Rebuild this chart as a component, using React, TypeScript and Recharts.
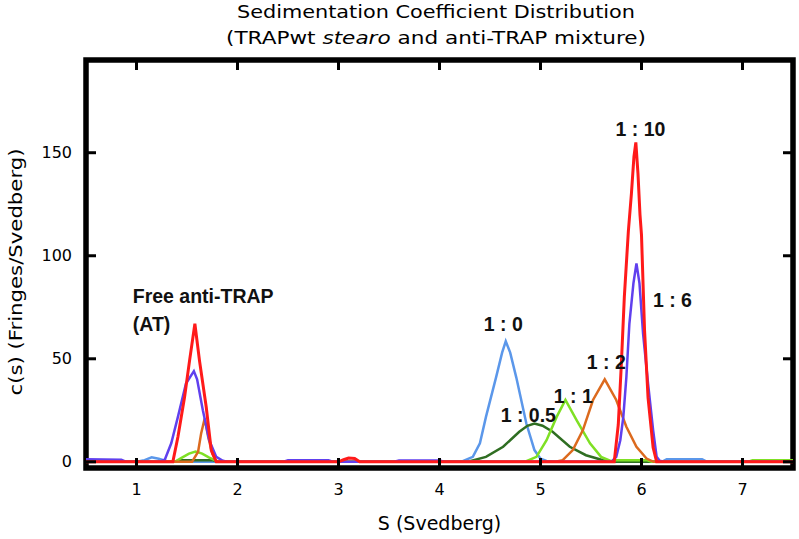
import React from "react";
import { LineChart, Line, XAxis, YAxis, ReferenceDot, ReferenceArea, Label } from "recharts";

// S (Svedberg) / c(s) pairs
const ratio1to0: [number, number][] = [
  [0.5, 0], [1.0, 0], [1.08, 0.8], [1.15, 2.2], [1.22, 1.5], [1.3, 0.3], [1.35, 0],
  [4.15, 0], [4.23, 0.3], [4.33, 2.4], [4.4, 9], [4.46, 21.8], [4.56, 41], [4.62, 53],
  [4.656, 58.5], [4.7, 53], [4.76, 41], [4.86, 18.6], [4.94, 5.7], [5.0, 1.5], [5.06, 0.4],
  [5.15, 0], [6.2, 0], [6.25, 1.2], [6.6, 1.2], [6.65, 0], [7.5, 0],
];
const ratio1to05: [number, number][] = [
  [0.5, 0], [1.38, 0], [1.42, 0.8], [1.75, 0.8], [1.8, 0], [4.2, 0], [4.3, 0.3],
  [4.46, 2.4], [4.63, 7.3], [4.79, 14.6], [4.87, 17.5], [4.94, 18.6], [5.02, 17.5],
  [5.12, 14.6], [5.29, 7.3], [5.45, 3.2], [5.62, 0.8], [5.72, 0], [7.5, 0],
];
const ratio1to1: [number, number][] = [
  [0.5, 0], [1.38, 0], [1.45, 2], [1.52, 4], [1.585, 5], [1.65, 4], [1.72, 2], [1.8, 0.3],
  [1.85, 0], [4.8, 0], [4.86, 0.3], [4.96, 2.4], [5.06, 10.5], [5.16, 21.8], [5.247, 30],
  [5.36, 20], [5.49, 9], [5.6, 2.4], [5.7, 0.3], [5.75, 0.8], [6.05, 0.8], [6.1, 0],
  [7.05, 0], [7.1, 0.8], [7.5, 0.8],
];
const ratio1to2: [number, number][] = [
  [0.5, 0], [1.55, 0], [1.61, 4.9], [1.64, 13.8], [1.675, 21], [1.71, 12], [1.75, 4],
  [1.79, 0], [5.15, 0], [5.22, 0.8], [5.32, 5.7], [5.42, 15.4], [5.52, 30], [5.636, 40],
  [5.75, 30], [5.85, 17], [5.95, 7.3], [6.05, 1.6], [6.12, 0], [7.5, 0],
];
const ratio1to6: [number, number][] = [
  [0.5, 1.2], [0.85, 1.0], [0.9, 0], [1.22, 0], [1.28, 1], [1.344, 9], [1.41, 21.8],
  [1.49, 38], [1.568, 44], [1.6, 40], [1.657, 25], [1.72, 10.5], [1.79, 2.4], [1.855, 0.5],
  [1.9, 0], [2.45, 0], [2.5, 0.8], [2.9, 0.8], [2.95, 0], [3.55, 0], [3.6, 0.6], [4.0, 0.6],
  [4.05, 0], [5.7, 0], [5.75, 2.4], [5.79, 10.5], [5.82, 21.8], [5.85, 41], [5.88, 67],
  [5.92, 86.6], [5.95, 96.3], [5.98, 86.6], [6.016, 62], [6.065, 38], [6.115, 15.4],
  [6.15, 2.4], [6.18, 0.5], [6.22, 0], [7.5, 0],
];
const ratio1to10: [number, number][] = [
  [0.5, 0], [1.36, 0], [1.41, 12], [1.476, 31.5], [1.525, 49], [1.578, 67], [1.624, 49],
  [1.69, 26.7], [1.74, 5.7], [1.79, 0], [3.0, 0], [3.05, 1], [3.1, 1.8], [3.16, 1.6],
  [3.21, 0], [5.73, 0], [5.77, 18], [5.8, 47], [5.83, 80], [5.87, 112], [5.9, 130],
  [5.925, 148], [5.944, 155], [5.965, 140], [5.985, 120], [6.0, 110], [6.03, 64],
  [6.065, 31], [6.115, 7], [6.15, 0], [7.5, 0],
];

const sTicks = [1, 2, 3, 4, 5, 6, 7];
const cTicks = [0, 50, 100, 150];
const sDomain: [number, number] = [0.5, 7.5];
const cDomain: [number, number] = [-3, 195];

const series = [
  { name: "1 : 0", color: "#5b97ea", width: 2.5, points: ratio1to0 },
  { name: "1 : 0.5", color: "#2f6e22", width: 2.5, points: ratio1to05 },
  { name: "1 : 1", color: "#7fe024", width: 2.5, points: ratio1to1 },
  { name: "1 : 2", color: "#dc6a1e", width: 2.5, points: ratio1to2 },
  { name: "1 : 6", color: "#6040ee", width: 2.5, points: ratio1to6 },
  { name: "1 : 10", color: "#ff1a1a", width: 3, points: ratio1to10 },
];

// label text, anchored at (s, c) on the text baseline
const notes = [
  { s: 5.99, c: 158, text: "1 : 10", anchor: "middle" },
  { s: 6.306, c: 75, text: "1 : 6", anchor: "middle" },
  { s: 4.632, c: 63.5, text: "1 : 0", anchor: "middle" },
  { s: 5.652, c: 45, text: "1 : 2", anchor: "middle" },
  { s: 5.325, c: 28.5, text: "1 : 1", anchor: "middle" },
  { s: 4.879, c: 19.3, text: "1 : 0.5", anchor: "middle" },
  { s: 0.963, c: 77, text: "Free anti-TRAP", anchor: "start" },
  { s: 0.963, c: 63.5, text: "(AT)", anchor: "start" },
];

const W = 799;
const H = 539;
const M = { top: 60, right: 6, bottom: 0, left: 0 };
const Y_AXIS_W = 86;
const X_AXIS_H = 71;
const plotTop = M.top;
const plotRight = W - M.right;
const TICK = 10; // inward tick length from frame centre
const X_MARGIN = 16;
const Y_MARGIN = 14;

const font = { fontFamily: "DejaVu Sans", fontSize: 16, fill: "#000" };

// bottom tick label + inward tick marks on bottom and top frame edges
function STick(props: any) {
  const { x, y, payload } = props;
  const axisY = y - X_MARGIN;
  return (
    <g>
      <line x1={x} y1={axisY} x2={x} y2={axisY - TICK} stroke="#000" strokeWidth={3} />
      <line x1={x} y1={plotTop} x2={x} y2={plotTop + TICK} stroke="#000" strokeWidth={3} />
      <text x={x} y={y} dy="0.71em" textAnchor="middle" {...font}>{payload.value}</text>
    </g>
  );
}

// left tick label + inward tick marks on left and right frame edges
function CTick(props: any) {
  const { x, y, payload } = props;
  const axisX = x + Y_MARGIN;
  return (
    <g>
      <line x1={axisX} y1={y} x2={axisX + TICK} y2={y} stroke="#000" strokeWidth={3} />
      <line x1={plotRight} y1={y} x2={plotRight - TICK} y2={y} stroke="#000" strokeWidth={3} />
      <text x={x} y={y} dy="0.355em" textAnchor="end" {...font}>{payload.value}</text>
    </g>
  );
}

export default function App() {
  return (
    <div style={{ position: "absolute", left: 0, top: 0, width: W, height: H, background: "#fff" }}>
      <svg width={W} height={60} style={{ position: "absolute", left: 0, top: 0 }}>
        <text x={436} y={18} textAnchor="middle" fontFamily="DejaVu Sans" fontSize={18.5}
          textLength={398} lengthAdjust="spacingAndGlyphs" fill="#000">
          Sedimentation Coefficient Distribution
        </text>
        <text x={436} y={44} textAnchor="middle" fontFamily="DejaVu Sans" fontSize={18.5}
          textLength={420} lengthAdjust="spacingAndGlyphs" fill="#000">
          (TRAPwt <tspan fontStyle="italic">stearo</tspan> and anti-TRAP mixture)
        </text>
      </svg>
      <LineChart width={W} height={H} margin={M} style={{ position: "absolute", left: 0, top: 0 }}>
        <XAxis type="number" dataKey="s" domain={sDomain} ticks={sTicks} interval={0}
          allowDataOverflow height={X_AXIS_H} axisLine={false} tickLine={false}
          tickSize={0} tickMargin={X_MARGIN} tick={<STick />}>
          <Label position="insideBottom" offset={9} value="S (Svedberg)"
            style={{ fontFamily: "DejaVu Sans", fontSize: 19, fill: "#000" }} />
        </XAxis>
        <YAxis type="number" domain={cDomain} ticks={cTicks} interval={0} allowDataOverflow
          width={Y_AXIS_W} axisLine={false} tickLine={false} tickSize={0} tickMargin={Y_MARGIN}
          tick={<CTick />}>
          <Label content={() => (
            <text transform="translate(22,272) rotate(-90)" textAnchor="middle"
              fontFamily="DejaVu Sans" fontSize={17} textLength={247}
              lengthAdjust="spacingAndGlyphs" fill="#000">
              c(s) (Fringes/Svedberg)
            </text>
          )} />
        </YAxis>
        {series.map((sr) => (
          <Line key={sr.name} name={sr.name} type="linear"
            data={sr.points.map(([s, c]) => ({ s, c }))} dataKey="c"
            stroke={sr.color} strokeWidth={sr.width} dot={false} isAnimationActive={false} />
        ))}
        <ReferenceArea x1={sDomain[0]} x2={sDomain[1]} y1={cDomain[0]} y2={cDomain[1]}
          ifOverflow="visible" fill="none" fillOpacity={0} stroke="#000" strokeWidth={5.5} />
        {notes.map((n) => (
          <ReferenceDot key={n.text} x={n.s} y={n.c} r={0} ifOverflow="visible"
            shape={(p: any) => (
              <text x={p.cx} y={p.cy} textAnchor={n.anchor} fontFamily="Liberation Sans"
                fontWeight="bold" fontSize={19.5} fill="#111">
                {n.text}
              </text>
            )} />
        ))}
      </LineChart>
    </div>
  );
}
